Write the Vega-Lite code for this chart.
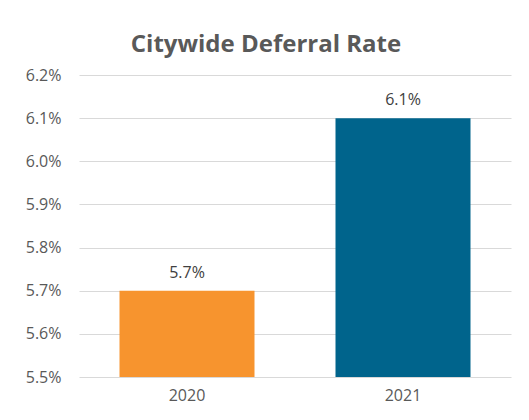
{
  "$schema": "https://vega.github.io/schema/vega-lite/v6.json",
  "width": 432,
  "height": 302,
  "autosize": {"type": "none"},
  "padding": {"left": 79, "top": 75, "right": 18, "bottom": 43},
  "background": "white",
  "config": {"view": {"stroke": null}, "font": "Open Sans"},
  "title": {
    "text": "Citywide Deferral Rate",
    "anchor": "middle",
    "dx": -29,
    "dy": 35,
    "offset": 26,
    "baseline": "alphabetic",
    "fontSize": 24,
    "fontWeight": "bold",
    "font": "Open Sans",
    "color": "#595959"
  },
  "data": {
    "values": [
      {"year": "2020", "rate": 0.057},
      {"year": "2021", "rate": 0.061}
    ]
  },
  "encoding": {
    "x": {
      "field": "year",
      "type": "nominal",
      "scale": {"paddingInner": 0.375, "paddingOuter": 0.1875},
      "axis": {
        "title": null,
        "labelAngle": 0,
        "domain": false,
        "ticks": false,
        "labelFontSize": 16,
        "labelColor": "#595959",
        "labelPadding": 10
      }
    },
    "y": {
      "field": "rate",
      "type": "quantitative",
      "scale": {"domain": [0.055, 0.062], "zero": false, "clamp": true},
      "axis": {
        "title": null,
        "format": ".1%",
        "values": [0.055, 0.056, 0.057, 0.058, 0.059, 0.060, 0.061, 0.062],
        "domain": false,
        "ticks": false,
        "labelFontSize": 16,
        "labelColor": "#595959",
        "labelPadding": 18,
        "gridColor": "#D9D9D9",
        "gridWidth": 1
      }
    }
  },
  "layer": [
    {
      "mark": {"type": "bar", "y2": 302},
      "encoding": {
        "y2": {"datum": 0.055},
        "color": {
          "field": "year",
          "type": "nominal",
          "scale": {"domain": ["2020", "2021"], "range": ["#F7942E", "#00648C"]},
          "legend": null
        }
      }
    },
    {
      "mark": {"type": "text", "baseline": "bottom", "dy": -10, "fontSize": 16, "color": "#404040"},
      "encoding": {
        "text": {"field": "rate", "type": "quantitative", "format": ".1%"}
      }
    }
  ]
}
